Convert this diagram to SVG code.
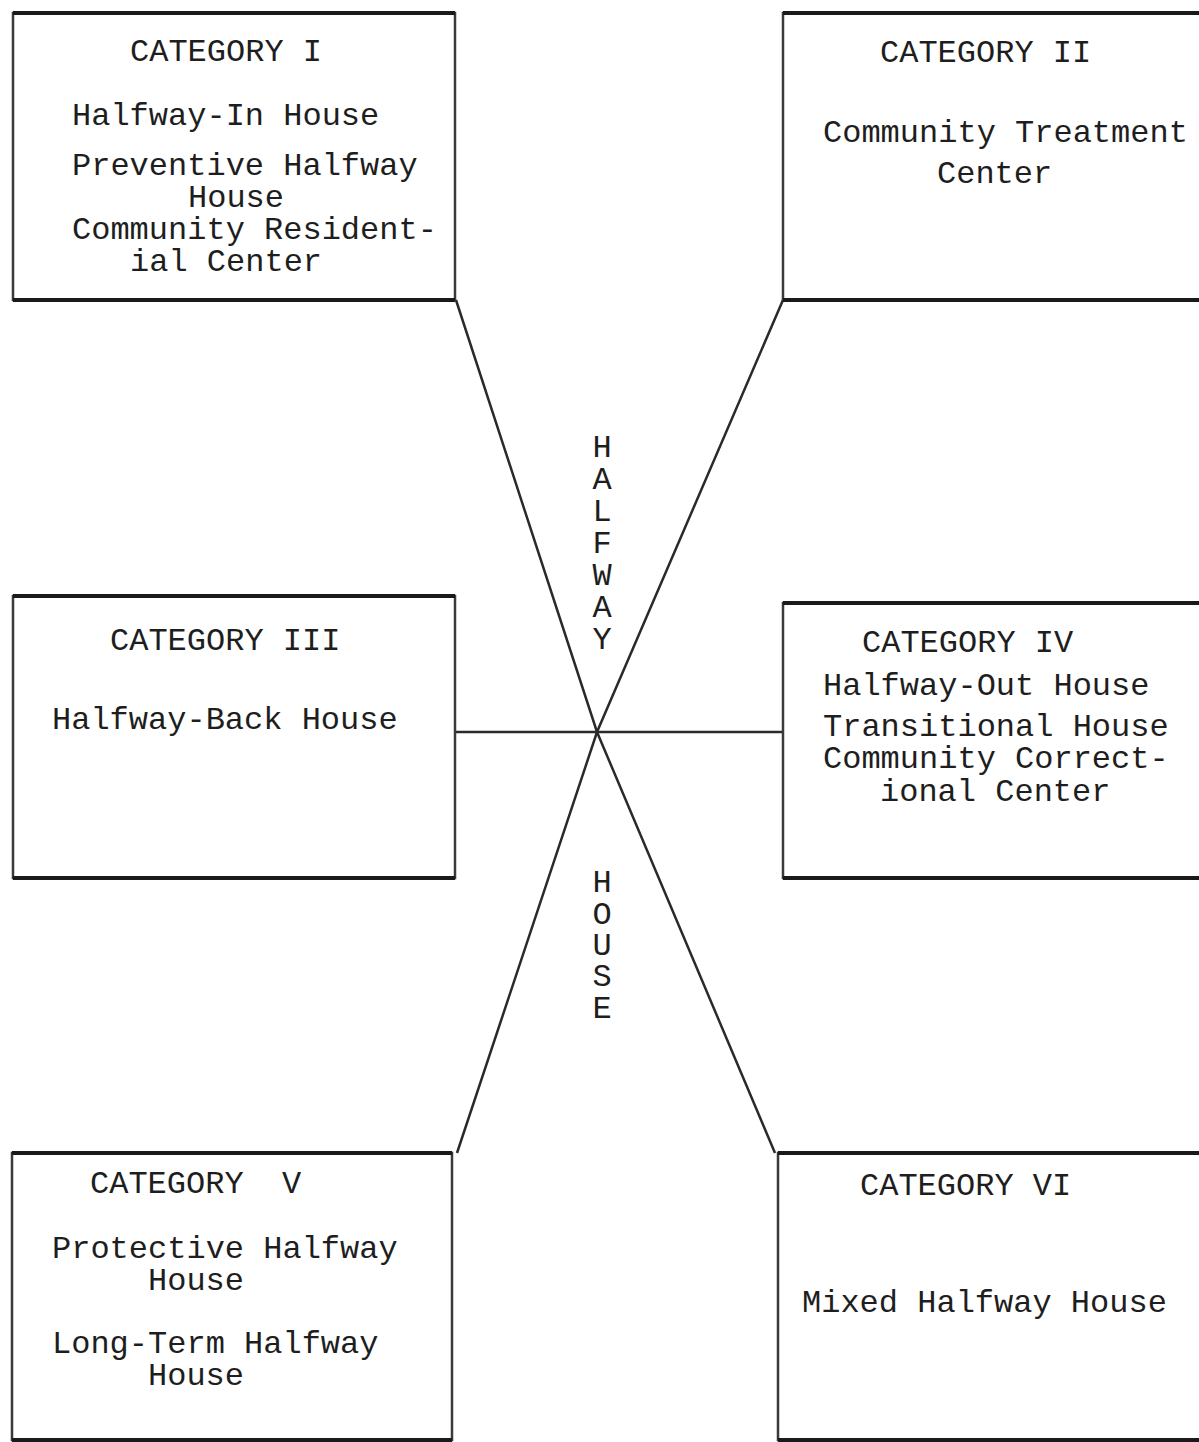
<svg xmlns="http://www.w3.org/2000/svg" width="1199" height="1442" viewBox="0 0 1199 1442">
<style>
.box{fill:none;stroke:#3a3a3a;stroke-width:2.5}
.edge{stroke:#1a1a1a;stroke-width:4}
.t{font-family:"Liberation Mono","Courier New",monospace;font-size:32px;fill:#1e1e1e}
.v{font-family:"Liberation Mono","Courier New",monospace;font-size:32px;fill:#1e1e1e;text-anchor:middle}
.c{fill:none;stroke:#2a2a2a;stroke-width:2.5}
</style>
<rect width="1199" height="1442" fill="#fff"/>
<g id="connectors">
<polyline class="c" points="456,300 597,732 775,1153"/>
<polyline class="c" points="783,300 597,732 457,1153"/>
<line class="c" x1="455" y1="732" x2="782" y2="732" stroke-width="3.5"/>
</g>
<g id="cat1">
<rect class="box" x="13" y="13" width="442" height="287"/>
<line class="edge" x1="13" y1="13" x2="455" y2="13"/>
<line class="edge" x1="13" y1="300" x2="455" y2="300"/>
<text class="t" x="130" y="61">CATEGORY I</text>
<text class="t" x="72" y="125">Halfway-In House</text>
<text class="t" x="72" y="175">Preventive Halfway</text>
<text class="t" x="188" y="207">House</text>
<text class="t" x="72" y="239">Community Resident-</text>
<text class="t" x="130" y="271">ial Center</text>
</g>
<g id="cat2">
<rect class="box" x="783" y="13" width="430" height="287"/>
<line class="edge" x1="783" y1="13" x2="1213" y2="13"/>
<line class="edge" x1="783" y1="300" x2="1213" y2="300"/>
<text class="t" x="880" y="62">CATEGORY II</text>
<text class="t" x="823" y="142">Community Treatment</text>
<text class="t" x="937" y="183">Center</text>
</g>
<g id="cat3">
<rect class="box" x="13" y="596" width="442" height="282"/>
<line class="edge" x1="13" y1="596" x2="455" y2="596"/>
<line class="edge" x1="13" y1="878" x2="455" y2="878"/>
<text class="t" x="110" y="650">CATEGORY III</text>
<text class="t" x="52" y="729">Halfway-Back House</text>
</g>
<g id="cat4">
<rect class="box" x="783" y="603" width="430" height="275"/>
<line class="edge" x1="783" y1="603" x2="1213" y2="603"/>
<line class="edge" x1="783" y1="878" x2="1213" y2="878"/>
<text class="t" x="862" y="652">CATEGORY IV</text>
<text class="t" x="823" y="695">Halfway-Out House</text>
<text class="t" x="823" y="736">Transitional House</text>
<text class="t" x="823" y="768">Community Correct-</text>
<text class="t" x="880" y="801">ional Center</text>
</g>
<g id="cat5">
<rect class="box" x="12" y="1153" width="440" height="287"/>
<line class="edge" x1="12" y1="1153" x2="452" y2="1153"/>
<line class="edge" x1="12" y1="1440" x2="452" y2="1440"/>
<text class="t" x="90" y="1193" xml:space="preserve">CATEGORY  V</text>
<text class="t" x="52" y="1258">Protective Halfway</text>
<text class="t" x="148" y="1290">House</text>
<text class="t" x="52" y="1353">Long-Term Halfway</text>
<text class="t" x="148" y="1385">House</text>
</g>
<g id="cat6">
<rect class="box" x="778" y="1153" width="435" height="287"/>
<line class="edge" x1="778" y1="1153" x2="1213" y2="1153"/>
<line class="edge" x1="778" y1="1440" x2="1213" y2="1440"/>
<text class="t" x="860" y="1195">CATEGORY VI</text>
<text class="t" x="802" y="1312">Mixed Halfway House</text>
</g>
<g id="label-halfway">
<text class="v" x="602" y="457">H</text>
<text class="v" x="602" y="489">A</text>
<text class="v" x="602" y="521">L</text>
<text class="v" x="602" y="553">F</text>
<text class="v" x="602" y="585">W</text>
<text class="v" x="602" y="617">A</text>
<text class="v" x="602" y="649">Y</text>
</g>
<g id="label-house">
<text class="v" x="602" y="892">H</text>
<text class="v" x="602" y="924">O</text>
<text class="v" x="602" y="955">U</text>
<text class="v" x="602" y="986">S</text>
<text class="v" x="602" y="1018">E</text>
</g>
</svg>
